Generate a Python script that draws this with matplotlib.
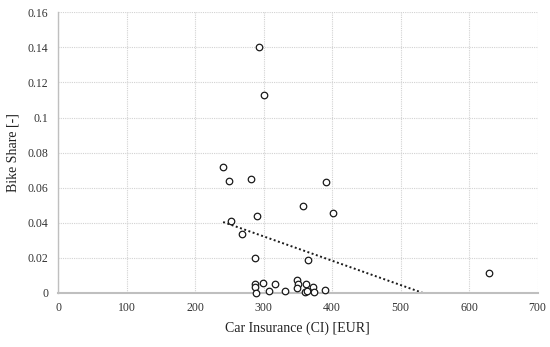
import numpy as np
import matplotlib
matplotlib.use("Agg")
import matplotlib.pyplot as plt

ci = [294, 300, 241, 249, 282, 391, 357, 401, 291, 253, 269, 287, 365,
      287, 287, 299, 317, 308, 289, 332, 349.5, 350, 349, 362.5, 360, 363,
      372, 374, 389, 629]
share = [0.140, 0.1129, 0.0718, 0.0636, 0.0647, 0.0629, 0.0495, 0.0457, 0.0438,
         0.0407, 0.0335, 0.0200, 0.0183, 0.0046, 0.0034, 0.0055, 0.0047, 0.0008,
         0.0, 0.0006, 0.0069, 0.0051, 0.0023, 0.0051, 0.0003, 0.0007, 0.0032,
         0.0003, 0.0017, 0.0114]
xticks = [0, 100, 200, 300, 400, 500, 600, 700]
yticks = [0, 0.02, 0.04, 0.06, 0.08, 0.1, 0.12, 0.14, 0.16]
ylabels = ["0", "0.02", "0.04", "0.06", "0.08", "0.1", "0.12", "0.14", "0.16"]

plt.rcParams['font.family'] = ['Liberation Serif', 'DejaVu Serif']

fig = plt.figure(figsize=(5.5, 3.47), dpi=100)
ax = fig.add_axes([0.1055, 0.157, 0.872, 0.807])

x = np.array(ci)
y = np.array(share)
ax.scatter(x, y, s=22, facecolors='white', edgecolors='#1a1a1a', linewidths=0.9, zorder=3, clip_on=False)

m, b = np.polyfit(x, y, 1)
xs = np.array([x.min(), x.max()])
ax.plot(xs, m * xs + b, color='#1a1a1a', linestyle=(0, (1, 1.3)), linewidth=1.4, zorder=2)

ax.set_xlim(0, 700)
ax.set_ylim(0, 0.16)
ax.set_xticks(xticks)
ax.set_xticklabels([str(t) for t in xticks])
ax.set_yticks(yticks)
ax.set_yticklabels(ylabels)
ax.tick_params(length=0, labelsize=8.5, colors='#333333', pad=7)
ax.grid(True, color='#d2d2d2', linestyle=(0, (1, 1)), linewidth=0.8)
ax.set_axisbelow(True)
for s in ['top', 'right']:
    ax.spines[s].set_visible(False)
for s in ['left', 'bottom']:
    ax.spines[s].set_color('#bfbfbf')
ax.spines['bottom'].set_linewidth(1.5)
ax.spines['left'].set_linewidth(1.0)

ax.set_xlabel('Car Insurance (CI) [EUR]', fontsize=10, color='#222222', labelpad=5)
ax.set_ylabel('Bike Share [-]', fontsize=10, color='#222222', labelpad=6)

fig.savefig('out.png', dpi=100, facecolor='white')
